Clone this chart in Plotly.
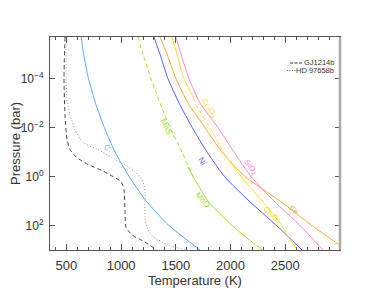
import plotly.graph_objects as go

# ---------------- data ----------------
P_grid = [2e-6, 1e-5, 1e-4, 1e-3, 1e-2, 1e-1, 1, 10, 100, 1000]

C_T    = [636, 657, 702, 766, 847, 945, 1073, 1229, 1437, 1721]
Ni_T   = [1300, 1355, 1428, 1530, 1650, 1785, 1945, 2170, 2420, 2653]
Fe_T   = [1355, 1419, 1501, 1611, 1766, 1922, 2132, 2452, 2744, 3060]
SiO2_T = [1501, 1547, 1620, 1721, 1885, 2031, 2187, 2397, 2635, 2845]

MnS_P = [2e-6, 1e-5, 1e-4, 1e-3, 1e-2, 1e-1, 1]
MnS_T = [1154, 1200, 1273, 1355, 1447, 1556, 1657]
MnO_P = [0.4, 1, 10, 100, 1000]
MnO_T = [1610, 1657, 1794, 2013, 2287]

CrU_P = [2e-6, 1e-5, 1e-4, 6e-4]
CrU_T = [1465, 1510, 1574, 1661]
CrD_P = [6e-4, 1e-3, 1e-2, 0.1]
CrD_T = [1661, 1675, 1812, 1931]
CrL_P = [0.1, 1, 10, 100, 234, 1000]
CrL_T = [1931, 2096, 2288, 2470, 2516, 2607]

GJ_P = [2e-6, 1e-4, 3e-3, 0.031, 0.079, 0.17, 0.32, 0.57, 1, 1.6, 3.4, 22, 120, 257, 450, 1000]
GJ_T = [487, 478, 487, 505, 533, 597, 697, 825, 926, 999, 1026, 1035, 1045, 1108, 1209, 1328]

HD_P = [2e-6, 1e-4, 7.2e-4, 3e-3, 0.012, 0.041, 0.079, 0.17, 0.36, 0.69, 1.6, 4.5, 43, 120, 280, 600, 1000]
HD_T = [496, 496, 505, 533, 578, 651, 789, 917, 1045, 1136, 1200, 1218, 1218, 1236, 1291, 1419, 1584]

x_ticks = [500, 1000, 1500, 2000, 2500]
y_ticks = [1e-4, 1e-2, 1, 1e2]
y_ticktext = ["10<sup>−4</sup>", "10<sup>−2</sup>", "10<sup>0</sup>", "10<sup>2</sup>"]

labels      = ["C", "MnS", "Ni", "MnO", "Cr<sub>2</sub>O<sub>3</sub>", "SiO<sub>2</sub>", "Cr<sub>2</sub>O<sub>3</sub>", "Fe"]
label_T     = [871, 1410, 1740, 1740, 1804, 2179, 2371, 2580]
label_logP  = [-1.18, -2.04, -0.61, 0.94, -2.82, -0.37, 1.59, 1.39]
label_color = ["#55aaff", "#99e52e", "#5560ff", "#99e52e", "#ffdd33", "#ff88cc", "#ffdd33", "#ffaa33"]
label_angle = [60, 65, 57, 50, 55, 50, 45, 35]

legend_names = ["GJ1214b", "HD 97658b"]

# ---------------- figure ----------------
fig = go.Figure()

def add(T, P, color, dash="solid", shape="spline"):
    fig.add_trace(go.Scatter(x=T, y=P, mode="lines",
                             line=dict(color=color, width=1, dash=dash, shape=shape, smoothing=0.6),
                             hoverinfo="skip", showlegend=False))

add(C_T, P_grid, "#55aaff")
add(MnS_T, MnS_P, "#99e52e", dash="4px,3px")
add(MnO_T, MnO_P, "#99e52e")
add(Ni_T, P_grid, "#5560ff")
add(Fe_T, P_grid, "#ffaa33")
add(CrU_T, CrU_P, "#ffdd33")
add(CrD_T, CrD_P, "#ffdd33", dash="4px,3px")
add(CrL_T, CrL_P, "#ffdd33")
add(SiO2_T, P_grid, "#ff88cc")
add(GJ_T, GJ_P, "#444444", dash="4px,3px")
add(HD_T, HD_P, "#999999", dash="1px,2px")

font = "Liberation Sans, Arial, sans-serif"

for t, lp, c, a, txt in zip(label_T, label_logP, label_color, label_angle, labels):
    fig.add_annotation(x=t, y=lp, xref="x", yref="y", text=txt, showarrow=False,
                       textangle=a, font=dict(size=8, color=c, family=font))

# legend (drawn manually, IDL style)
leg_y = [0.878, 0.843]
leg_dash = ["3px,1.5px", "1px,1.5px"]
leg_col = ["#333333", "#555555"]
leg_x0 = [0.828, 0.817]
leg_x1 = [0.869, 0.848]
for name, yy, d, c, xa, xb in zip(legend_names, leg_y, leg_dash, leg_col, leg_x0, leg_x1):
    fig.add_shape(type="line", xref="paper", yref="paper", x0=xa, x1=xb, y0=yy, y1=yy,
                  line=dict(color=c, width=1, dash=d))
    fig.add_annotation(x=0.985, y=yy, xref="paper", yref="paper", text=name, showarrow=False,
                       xanchor="right", yanchor="middle", font=dict(size=7.5, color="#333", family=font))

# thick grey right-hand axis line
fig.add_shape(type="line", xref="paper", yref="paper", x0=1, x1=1, y0=0, y1=1,
              line=dict(color="#aaaaaa", width=2.5))

fig.update_layout(
    width=380, height=292,
    margin=dict(l=42, r=48, t=29, b=50, autoexpand=False),
    plot_bgcolor="white", paper_bgcolor="white",
    showlegend=False,
    font=dict(family=font, size=12, color="#333"),
    xaxis=dict(range=[350, 3000], tickvals=x_ticks, ticks="inside", ticklen=6,
               tickcolor="#555", linecolor="#555", linewidth=1, mirror="ticks",
               showgrid=False, zeroline=False, automargin=False, ticklabelstandoff=3,
               minor=dict(dtick=100, tick0=0, ticks="inside", ticklen=3, tickcolor="#555", showgrid=False),
               tickfont=dict(size=13, color="#333"),
               title=dict(text="Temperature (K)", font=dict(size=13, color="#333"), standoff=4)),
    yaxis=dict(type="log", range=[3, -5.7], tickvals=y_ticks, ticktext=y_ticktext,
               ticks="inside", ticklen=5, tickcolor="#555", linecolor="#555", linewidth=1,
               mirror="ticks", showgrid=False, zeroline=False, automargin=False, ticklabelstandoff=3,
               tickfont=dict(size=12, color="#333"),
               title=dict(text="Pressure (bar)", font=dict(size=13, color="#333"), standoff=4)),
)

fig.write_html("out.html")
